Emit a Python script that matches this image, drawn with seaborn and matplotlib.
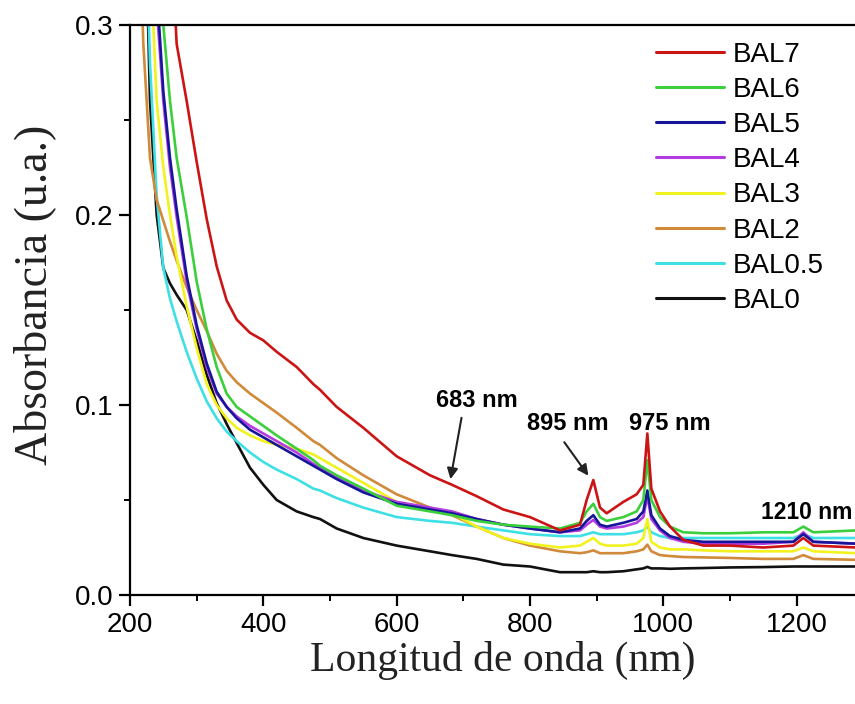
import numpy as np
import pandas as pd
import matplotlib
matplotlib.use("Agg")
import matplotlib.pyplot as plt
import seaborn as sns

wavelength = [210, 220, 230, 240, 250, 260, 270, 285, 300, 315, 330, 345, 360, 380, 400, 420,
              450, 475, 485, 510, 550, 600, 650, 683, 720, 760, 800, 845, 875, 885, 895, 905,
              915, 940, 960, 970, 976, 982, 995, 1010, 1030, 1060, 1100, 1150, 1195, 1210, 1225, 1290]

bal0 = [0.60, 0.40, 0.26, 0.20, 0.172, 0.164, 0.158, 0.150, 0.134, 0.116, 0.101, 0.090, 0.080, 0.067, 0.058, 0.050,
        0.044, 0.041, 0.040, 0.035, 0.030, 0.026, 0.023, 0.021, 0.019, 0.016, 0.015, 0.012, 0.012, 0.012, 0.0125, 0.012,
        0.012, 0.0125, 0.0135, 0.014, 0.0148, 0.014, 0.014, 0.0138, 0.014, 0.0142, 0.0145, 0.0147, 0.015, 0.015, 0.015, 0.015]
bal05 = [0.55, 0.40, 0.28, 0.21, 0.172, 0.156, 0.144, 0.128, 0.114, 0.102, 0.093, 0.086, 0.081, 0.075, 0.070, 0.066,
         0.061, 0.056, 0.055, 0.051, 0.046, 0.041, 0.039, 0.038, 0.036, 0.034, 0.032, 0.031, 0.031, 0.032, 0.033, 0.032,
         0.032, 0.032, 0.033, 0.034, 0.036, 0.033, 0.031, 0.030, 0.030, 0.030, 0.030, 0.030, 0.030, 0.032, 0.030, 0.030]
bal2 = [0.40, 0.29, 0.23, 0.208, 0.197, 0.186, 0.176, 0.162, 0.150, 0.139, 0.127, 0.118, 0.112, 0.106, 0.101, 0.096,
        0.088, 0.081, 0.079, 0.072, 0.063, 0.053, 0.046, 0.042, 0.036, 0.030, 0.026, 0.023, 0.022, 0.0225, 0.0235, 0.022,
        0.022, 0.022, 0.023, 0.024, 0.0265, 0.023, 0.021, 0.0205, 0.020, 0.0198, 0.0195, 0.019, 0.019, 0.021, 0.019, 0.0185]
bal3 = [0.80, 0.50, 0.34, 0.26, 0.225, 0.200, 0.178, 0.152, 0.130, 0.111, 0.100, 0.093, 0.088, 0.084, 0.081, 0.079,
        0.077, 0.074, 0.072, 0.067, 0.059, 0.049, 0.045, 0.043, 0.036, 0.030, 0.027, 0.025, 0.026, 0.028, 0.030, 0.027,
        0.026, 0.026, 0.027, 0.030, 0.040, 0.028, 0.025, 0.024, 0.024, 0.0235, 0.023, 0.023, 0.023, 0.025, 0.023, 0.022]
bal4 = [0.90, 0.60, 0.40, 0.31, 0.26, 0.225, 0.199, 0.165, 0.140, 0.120, 0.106, 0.099, 0.094, 0.089, 0.085, 0.081,
        0.075, 0.069, 0.067, 0.062, 0.055, 0.049, 0.046, 0.044, 0.040, 0.037, 0.035, 0.033, 0.034, 0.037, 0.0395, 0.036,
        0.035, 0.036, 0.038, 0.041, 0.052, 0.040, 0.034, 0.030, 0.028, 0.027, 0.027, 0.027, 0.028, 0.033, 0.028, 0.027]
bal5 = [0.90, 0.60, 0.41, 0.32, 0.265, 0.230, 0.203, 0.168, 0.142, 0.122, 0.107, 0.099, 0.093, 0.087, 0.083, 0.079,
        0.073, 0.068, 0.066, 0.061, 0.054, 0.048, 0.045, 0.043, 0.040, 0.037, 0.035, 0.033, 0.035, 0.039, 0.042, 0.037,
        0.036, 0.038, 0.040, 0.044, 0.055, 0.042, 0.035, 0.031, 0.029, 0.028, 0.028, 0.028, 0.028, 0.032, 0.028, 0.027]
bal6 = [1.00, 0.70, 0.48, 0.36, 0.30, 0.26, 0.23, 0.199, 0.165, 0.140, 0.120, 0.106, 0.099, 0.094, 0.089, 0.084,
        0.077, 0.071, 0.068, 0.063, 0.056, 0.047, 0.044, 0.042, 0.039, 0.037, 0.036, 0.035, 0.038, 0.044, 0.048, 0.041,
        0.039, 0.041, 0.044, 0.050, 0.071, 0.050, 0.041, 0.036, 0.033, 0.0325, 0.0325, 0.033, 0.033, 0.036, 0.033, 0.034]
bal7 = [2.00, 1.50, 1.00, 0.70, 0.50, 0.36, 0.29, 0.26, 0.228, 0.198, 0.173, 0.155, 0.145, 0.138, 0.134, 0.128,
        0.120, 0.111, 0.108, 0.099, 0.088, 0.073, 0.063, 0.058, 0.052, 0.045, 0.041, 0.034, 0.037, 0.050, 0.0605, 0.046,
        0.043, 0.049, 0.053, 0.058, 0.085, 0.056, 0.044, 0.036, 0.029, 0.026, 0.026, 0.025, 0.026, 0.030, 0.026, 0.025]

series_names = ["BAL0", "BAL0.5", "BAL2", "BAL3", "BAL4", "BAL5", "BAL6", "BAL7"]
series_values = [bal0, bal05, bal2, bal3, bal4, bal5, bal6, bal7]
colors = ["#111111", "#3ee0e6", "#d08a3a", "#f2f21e", "#b23ce0", "#16169a", "#3ccf3c", "#cc1414"]

peak_labels = ["683 nm", "895 nm", "975 nm", "1210 nm"]

frames = []
for name, vals in zip(series_names, series_values):
    frames.append(pd.DataFrame({"wl": wavelength, "abs": vals, "sample": name}))
df = pd.concat(frames, ignore_index=True)

sns.set_style("ticks")
plt.rcParams["font.family"] = ["Liberation Sans", "DejaVu Sans"]
plt.rcParams["text.color"] = "black"
plt.rcParams["xtick.color"] = "black"
plt.rcParams["ytick.color"] = "black"
plt.rcParams["xtick.labelcolor"] = "black"
plt.rcParams["ytick.labelcolor"] = "black"

fig = plt.figure(figsize=(8.55, 7.04), dpi=100)
ax = fig.add_axes([130 / 855, 109 / 704, 725 / 855, 570 / 704])

palette = dict(zip(series_names, colors))
sns.lineplot(data=df, x="wl", y="abs", hue="sample", hue_order=series_names,
             palette=palette, linewidth=1.9, ax=ax, legend=False, sort=False)

ax.set_xlim(200, 1287.5)
ax.set_ylim(0, 0.3)
ax.set_xticks([200, 400, 600, 800, 1000, 1200])
ax.set_xticks([300, 500, 700, 900, 1100], minor=True)
ax.set_yticks([0.0, 0.1, 0.2, 0.3])
ax.set_yticks([0.05, 0.15, 0.25], minor=True)
ax.set_yticklabels(["0.0", "0.1", "0.2", "0.3"])
ax.tick_params(axis="both", which="major", length=8, width=1.6, labelsize=20, direction="out", pad=4,
               colors="black")
ax.tick_params(axis="both", which="minor", length=4.5, width=1.4, direction="out", colors="black")
ax.set_xlabel("")
ax.set_ylabel("")
for s in ["left", "bottom", "top"]:
    ax.spines[s].set_linewidth(1.6)
    ax.spines[s].set_color("black")
ax.spines["right"].set_visible(False)

fig.text(503 / 855, 1 - 660 / 704, "Longitud de onda (nm)", ha="center", va="center",
         fontsize=30, family=["Liberation Serif", "DejaVu Serif"], color="#222222")
fig.text(35 / 855, 1 - 295 / 704, "Absorbancia (u.a.)", ha="center", va="center", rotation=90,
         fontsize=33, family=["Liberation Serif", "DejaVu Serif"], color="#222222")

# legend
handles = [plt.Line2D([], [], color=c, lw=2.2) for c in colors][::-1]
labels = series_names[::-1]
ax.legend(handles, labels, loc="upper left", bbox_to_anchor=(0.703, 1.0), frameon=False,
          fontsize=20, handlelength=2.45, handletextpad=0.3, labelspacing=0.33, borderaxespad=0.2)

# peak annotations
ax.text(720, 0.1026, peak_labels[0], ha="center", va="center", fontsize=17, fontweight="bold")
ax.text(856, 0.0905, peak_labels[1], ha="center", va="center", fontsize=17, fontweight="bold")
ax.text(1010, 0.0905, peak_labels[2], ha="center", va="center", fontsize=17, fontweight="bold")
ax.text(1284, 0.0432, peak_labels[3], ha="right", va="center", fontsize=16.5, fontweight="bold")
arrow = dict(arrowstyle="-|>", lw=1.5, color="#222222", mutation_scale=16)
ax.annotate("", xy=(680, 0.0595), xytext=(698, 0.0947), arrowprops=arrow)
ax.annotate("", xy=(890, 0.0616), xytext=(849, 0.0816), arrowprops=arrow)

fig.savefig("out.png", dpi=100)
